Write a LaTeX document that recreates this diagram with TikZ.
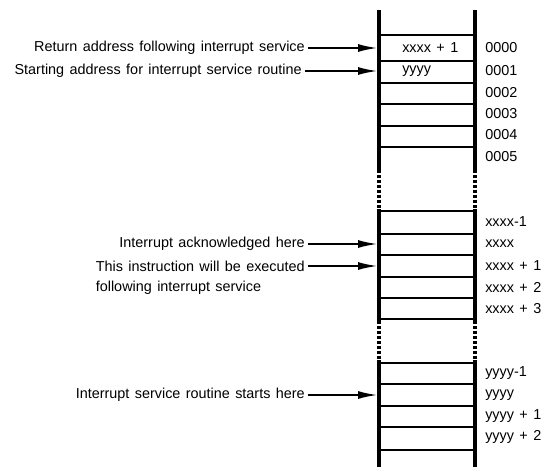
\documentclass[tikz,border=0pt]{standalone}
\usepackage{fontspec}
\setmainfont[WordSpace={1.35}]{Liberation Sans}
\usetikzlibrary{arrows.meta, positioning}

\begin{document}
\begin{tikzpicture}[x=0.75pt, y=-0.75pt,
    rail/.style={line width=3.3pt},
    railgap/.style={line width=3.3pt, dash pattern=on 2.5pt off 1.2pt},
    rowline/.style={line width=1.5pt},
    txt/.style={inner sep=0pt, font=\fontsize{10.8}{13}\selectfont},
    addr/.style={txt, anchor=west},
    cell/.style={txt, anchor=west},
    note/.style={txt, anchor=east},
    arr/.style={-{Latex[length=15pt, width=6pt]}, line width=1.6pt, shorten <=2pt}]
    \useasboundingbox (0,0) rectangle (541,467);
    % Rails of the memory column
    \coordinate (lt) at (379,10);  \coordinate (rt) at (475,10);
    \coordinate (lb) at (379,467); \coordinate (rb) at (475,467);
    \draw[rail] (lt) -- (379,170);    \draw[rail] (rt) -- (475,170);
    \draw[railgap] (379,170) -- (379,209); \draw[railgap] (475,170) -- (475,209);
    \draw[rail] (379,209) -- (379,321);   \draw[rail] (475,209) -- (475,321);
    \draw[railgap] (379,321) -- (379,360); \draw[railgap] (475,321) -- (475,360);
    \draw[rail] (379,360) -- (lb);    \draw[rail] (475,360) -- (rb);
    % Row separators
    \foreach \y in {35,61,83,104,126,147,211,234,255,277,298,319,363,384,406,427,450}
      \draw[rowline] (379,\y) -- (475,\y);
    % Cell contents
    \node[cell] (c0) at (402,48) {xxxx + 1};
    \node[cell] (c1) at (402,71) {yyyy};
    % Addresses
    \foreach \y/\a [count=\i] in {48/0000, 71/0001, 93/0002, 114/0003, 135/0004, 157/0005,
        222/xxxx-1, 244/xxxx, 266/xxxx + 1, 287/xxxx + 2, 309/xxxx + 3,
        373/yyyy-1, 395/yyyy, 416/yyyy + 1, 437/yyyy + 2}
      \node[addr] (a\i) at (485,\y) {\a};
    % Points on the left rail
    \coordinate (p1) at (378,48);
    \coordinate (p2) at (378,71);
    \coordinate (p3) at (378,244);
    \coordinate (p4) at (378,266);
    \coordinate (p5) at (378,395);
    % Notes
    \node[note] (n1) at (305,48) {Return address following interrupt service};
    \node[note] (n2) at (302,71) {Starting address for interrupt service routine};
    \node[note] (n3) at (305,244) {Interrupt acknowledged here};
    \node[note] (n4) at (305,266) {This instruction will be executed};
    \node[txt, below=16.5pt of n4.west, anchor=west] (n4b) {following interrupt service};
    \node[note] (n5) at (305,395) {Interrupt service routine starts here};
    % Arrows
    \draw[arr] (n1) -- (p1);
    \draw[arr] (n2) -- (p2);
    \draw[arr] (n3) -- (p3);
    \draw[arr] (n4) -- (p4);
    \draw[arr] (n5) -- (p5);
\end{tikzpicture}
\end{document}
